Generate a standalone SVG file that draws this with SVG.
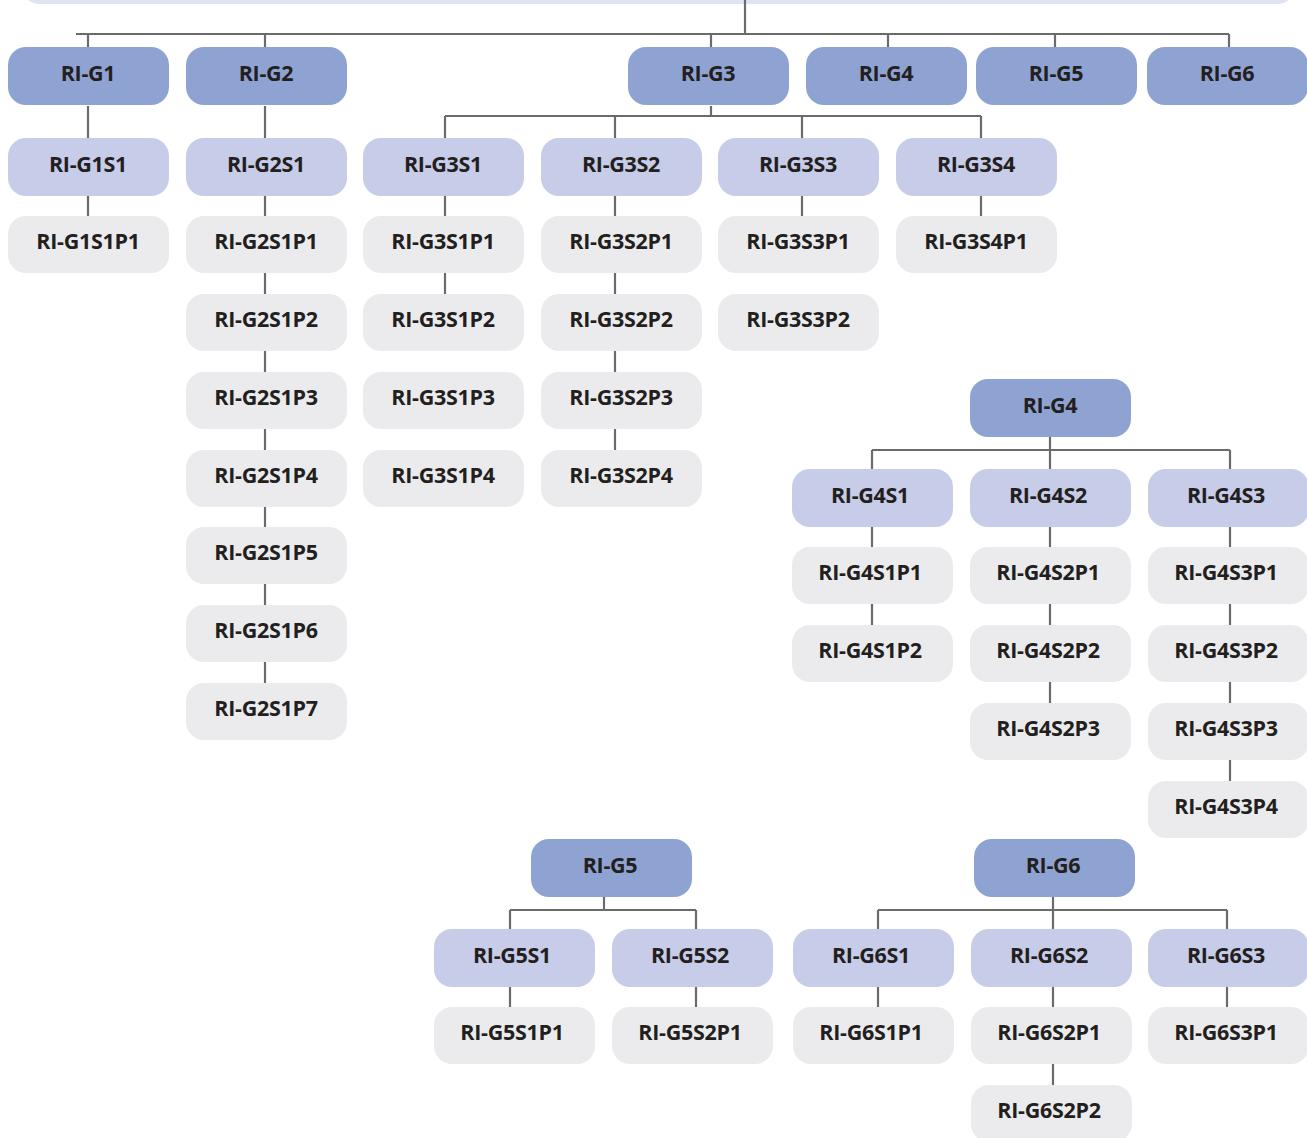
<svg xmlns="http://www.w3.org/2000/svg" width="1307" height="1138" viewBox="0 0 1307 1138">
<style>
.g{fill:#8fa3d2}
.s{fill:#c7cce8}
.p{fill:#ebebed}
text{font-family:"Open Sans","Liberation Sans",sans-serif;font-weight:700;font-size:21.5px;letter-spacing:-0.3px;fill:#231f20;text-anchor:middle}
.c{stroke:#6b6b6b;stroke-width:2.2;fill:none}
</style>
<rect x="20" y="-40" width="1277" height="44" rx="20" fill="#e0e4f2"/>
<g id="connectors" class="c">
<path d="M745 0V34M76 34H1229M88 34V47M265 34V47M711 34V47M888 34V47M1055 34V47M1229 34V47"/>
<path d="M88 106V138M88 196V216"/>
<path d="M265 106V138M265 196V216M265 273V294M265 351V372M265 429V450M265 507V527M265 584V605M265 662V683"/>
<path d="M711 106V116M445 116H981M445 116V138M615 116V138M802 116V138M981 116V138"/>
<path d="M445 196V216M445 273V294"/>
<path d="M615 196V216M615 273V294M615 351V372M615 429V450"/>
<path d="M802 196V216M981 196V216"/>
<path d="M1050 437V450M872 450H1230M872 450V469M1050 450V469M1230 450V469"/>
<path d="M872 527V547M872 604V625"/>
<path d="M1050 527V547M1050 604V625M1050 682V703"/>
<path d="M1230 527V547M1230 604V625M1230 682V703M1230 760V781"/>
<path d="M604 897V910M510 910H696M510 910V929M696 910V929M510 987V1007M696 987V1007"/>
<path d="M1053 897V910M878 910H1227M878 910V929M1053 910V929M1227 910V929M878 987V1007M1053 987V1007M1053 1064V1085M1227 987V1007"/>
</g>
<g id="RI-G1"><rect class="g" x="8" y="47" width="161" height="58" rx="18"/><text x="88" y="81">RI-G1</text></g>
<g id="RI-G2"><rect class="g" x="186" y="47" width="161" height="58" rx="18"/><text x="266" y="81">RI-G2</text></g>
<g id="RI-G3"><rect class="g" x="628" y="47" width="161" height="58" rx="18"/><text x="708" y="81">RI-G3</text></g>
<g id="RI-G4"><rect class="g" x="806" y="47" width="161" height="58" rx="18"/><text x="886" y="81">RI-G4</text></g>
<g id="RI-G5"><rect class="g" x="976" y="47" width="161" height="58" rx="18"/><text x="1056" y="81">RI-G5</text></g>
<g id="RI-G6"><rect class="g" x="1147" y="47" width="161" height="58" rx="18"/><text x="1227" y="81">RI-G6</text></g>
<g id="RI-G1S1"><rect class="s" x="8" y="138" width="161" height="58" rx="18"/><text x="88" y="172">RI-G1S1</text></g>
<g id="RI-G2S1"><rect class="s" x="186" y="138" width="161" height="58" rx="18"/><text x="266" y="172">RI-G2S1</text></g>
<g id="RI-G3S1"><rect class="s" x="363" y="138" width="161" height="58" rx="18"/><text x="443" y="172">RI-G3S1</text></g>
<g id="RI-G3S2"><rect class="s" x="541" y="138" width="161" height="58" rx="18"/><text x="621" y="172">RI-G3S2</text></g>
<g id="RI-G3S3"><rect class="s" x="718" y="138" width="161" height="58" rx="18"/><text x="798" y="172">RI-G3S3</text></g>
<g id="RI-G3S4"><rect class="s" x="896" y="138" width="161" height="58" rx="18"/><text x="976" y="172">RI-G3S4</text></g>
<g id="RI-G1S1P1"><rect class="p" x="8" y="216" width="161" height="57" rx="18"/><text x="88" y="249">RI-G1S1P1</text></g>
<g id="RI-G2S1P1"><rect class="p" x="186" y="216" width="161" height="57" rx="18"/><text x="266" y="249">RI-G2S1P1</text></g>
<g id="RI-G2S1P2"><rect class="p" x="186" y="294" width="161" height="57" rx="18"/><text x="266" y="327">RI-G2S1P2</text></g>
<g id="RI-G2S1P3"><rect class="p" x="186" y="372" width="161" height="57" rx="18"/><text x="266" y="405">RI-G2S1P3</text></g>
<g id="RI-G2S1P4"><rect class="p" x="186" y="450" width="161" height="57" rx="18"/><text x="266" y="483">RI-G2S1P4</text></g>
<g id="RI-G2S1P5"><rect class="p" x="186" y="527" width="161" height="57" rx="18"/><text x="266" y="560">RI-G2S1P5</text></g>
<g id="RI-G2S1P6"><rect class="p" x="186" y="605" width="161" height="57" rx="18"/><text x="266" y="638">RI-G2S1P6</text></g>
<g id="RI-G2S1P7"><rect class="p" x="186" y="683" width="161" height="57" rx="18"/><text x="266" y="716">RI-G2S1P7</text></g>
<g id="RI-G3S1P1"><rect class="p" x="363" y="216" width="161" height="57" rx="18"/><text x="443" y="249">RI-G3S1P1</text></g>
<g id="RI-G3S1P2"><rect class="p" x="363" y="294" width="161" height="57" rx="18"/><text x="443" y="327">RI-G3S1P2</text></g>
<g id="RI-G3S1P3"><rect class="p" x="363" y="372" width="161" height="57" rx="18"/><text x="443" y="405">RI-G3S1P3</text></g>
<g id="RI-G3S1P4"><rect class="p" x="363" y="450" width="161" height="57" rx="18"/><text x="443" y="483">RI-G3S1P4</text></g>
<g id="RI-G3S2P1"><rect class="p" x="541" y="216" width="161" height="57" rx="18"/><text x="621" y="249">RI-G3S2P1</text></g>
<g id="RI-G3S2P2"><rect class="p" x="541" y="294" width="161" height="57" rx="18"/><text x="621" y="327">RI-G3S2P2</text></g>
<g id="RI-G3S2P3"><rect class="p" x="541" y="372" width="161" height="57" rx="18"/><text x="621" y="405">RI-G3S2P3</text></g>
<g id="RI-G3S2P4"><rect class="p" x="541" y="450" width="161" height="57" rx="18"/><text x="621" y="483">RI-G3S2P4</text></g>
<g id="RI-G3S3P1"><rect class="p" x="718" y="216" width="161" height="57" rx="18"/><text x="798" y="249">RI-G3S3P1</text></g>
<g id="RI-G3S3P2"><rect class="p" x="718" y="294" width="161" height="57" rx="18"/><text x="798" y="327">RI-G3S3P2</text></g>
<g id="RI-G3S4P1"><rect class="p" x="896" y="216" width="161" height="57" rx="18"/><text x="976" y="249">RI-G3S4P1</text></g>
<g id="RI-G4-sub"><rect class="g" x="970" y="379" width="161" height="58" rx="18"/><text x="1050" y="413">RI-G4</text></g>
<g id="RI-G4S1"><rect class="s" x="792" y="469" width="161" height="58" rx="18"/><text x="870" y="503">RI-G4S1</text></g>
<g id="RI-G4S2"><rect class="s" x="970" y="469" width="161" height="58" rx="18"/><text x="1048" y="503">RI-G4S2</text></g>
<g id="RI-G4S3"><rect class="s" x="1148" y="469" width="161" height="58" rx="18"/><text x="1226" y="503">RI-G4S3</text></g>
<g id="RI-G4S1P1"><rect class="p" x="792" y="547" width="161" height="57" rx="18"/><text x="870" y="580">RI-G4S1P1</text></g>
<g id="RI-G4S1P2"><rect class="p" x="792" y="625" width="161" height="57" rx="18"/><text x="870" y="658">RI-G4S1P2</text></g>
<g id="RI-G4S2P1"><rect class="p" x="970" y="547" width="161" height="57" rx="18"/><text x="1048" y="580">RI-G4S2P1</text></g>
<g id="RI-G4S2P2"><rect class="p" x="970" y="625" width="161" height="57" rx="18"/><text x="1048" y="658">RI-G4S2P2</text></g>
<g id="RI-G4S2P3"><rect class="p" x="970" y="703" width="161" height="57" rx="18"/><text x="1048" y="736">RI-G4S2P3</text></g>
<g id="RI-G4S3P1"><rect class="p" x="1148" y="547" width="161" height="57" rx="18"/><text x="1226" y="580">RI-G4S3P1</text></g>
<g id="RI-G4S3P2"><rect class="p" x="1148" y="625" width="161" height="57" rx="18"/><text x="1226" y="658">RI-G4S3P2</text></g>
<g id="RI-G4S3P3"><rect class="p" x="1148" y="703" width="161" height="57" rx="18"/><text x="1226" y="736">RI-G4S3P3</text></g>
<g id="RI-G4S3P4"><rect class="p" x="1148" y="781" width="161" height="57" rx="18"/><text x="1226" y="814">RI-G4S3P4</text></g>
<g id="RI-G5-sub"><rect class="g" x="531" y="839" width="161" height="58" rx="18"/><text x="610" y="873">RI-G5</text></g>
<g id="RI-G5S1"><rect class="s" x="434" y="929" width="161" height="58" rx="18"/><text x="512" y="963">RI-G5S1</text></g>
<g id="RI-G5S2"><rect class="s" x="612" y="929" width="161" height="58" rx="18"/><text x="690" y="963">RI-G5S2</text></g>
<g id="RI-G5S1P1"><rect class="p" x="434" y="1007" width="161" height="57" rx="18"/><text x="512" y="1040">RI-G5S1P1</text></g>
<g id="RI-G5S2P1"><rect class="p" x="612" y="1007" width="161" height="57" rx="18"/><text x="690" y="1040">RI-G5S2P1</text></g>
<g id="RI-G6-sub"><rect class="g" x="974" y="839" width="161" height="58" rx="18"/><text x="1053" y="873">RI-G6</text></g>
<g id="RI-G6S1"><rect class="s" x="793" y="929" width="161" height="58" rx="18"/><text x="871" y="963">RI-G6S1</text></g>
<g id="RI-G6S2"><rect class="s" x="971" y="929" width="161" height="58" rx="18"/><text x="1049" y="963">RI-G6S2</text></g>
<g id="RI-G6S3"><rect class="s" x="1148" y="929" width="161" height="58" rx="18"/><text x="1226" y="963">RI-G6S3</text></g>
<g id="RI-G6S1P1"><rect class="p" x="793" y="1007" width="161" height="57" rx="18"/><text x="871" y="1040">RI-G6S1P1</text></g>
<g id="RI-G6S2P1"><rect class="p" x="971" y="1007" width="161" height="57" rx="18"/><text x="1049" y="1040">RI-G6S2P1</text></g>
<g id="RI-G6S2P2"><rect class="p" x="971" y="1085" width="161" height="57" rx="18"/><text x="1049" y="1118">RI-G6S2P2</text></g>
<g id="RI-G6S3P1"><rect class="p" x="1148" y="1007" width="161" height="57" rx="18"/><text x="1226" y="1040">RI-G6S3P1</text></g>
</svg>
